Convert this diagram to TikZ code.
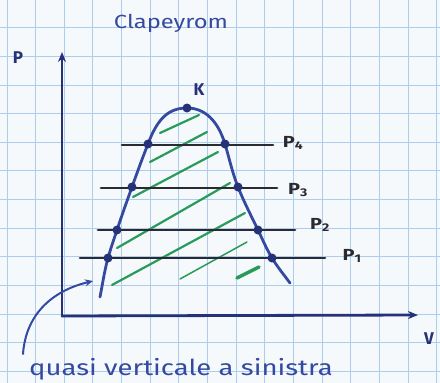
\documentclass[tikz,border=0pt]{standalone}
\usepackage{fontspec}
\setmainfont{Fira Sans}
\newfontfamily\handfont[FakeStretch=1.25]{Fira Sans}
\usetikzlibrary{arrows.meta}
\definecolor{paper}{RGB}{246,249,252}
\definecolor{gridblue}{RGB}{172,206,236}
\definecolor{inkblue}{RGB}{52,74,160}
\definecolor{navy}{RGB}{38,50,120}
\definecolor{blackink}{RGB}{42,42,48}
\definecolor{hatchgreen}{RGB}{40,155,90}
\begin{document}
\begin{tikzpicture}[x=1pt,y=-1pt,
  gridline/.style={draw=gridblue, line width=1pt},
  axisline/.style={draw=navy, line width=2.8pt, line cap=round, -{Stealth[length=10pt,width=8pt]}},
  curveline/.style={draw=inkblue, line width=2.8pt, line cap=round},
  pline/.style={draw=blackink, line width=2.8pt, line cap=round},
  hatch/.style={draw=hatchgreen, line width=2.2pt, line cap=round},
  dotmark/.style={fill=navy},
  lab/.style={text=navy, font=\fontsize{17}{17}\selectfont\bfseries, inner sep=0pt},
  plab/.style={text=blackink, font=\handfont\fontsize{16}{16}\selectfont\bfseries, inner sep=0pt},
  note/.style={text=inkblue, font=\handfont\fontsize{22}{22}\selectfont, inner sep=0pt}]
\fill[paper] (0,0) rectangle (440,383);
\useasboundingbox (0,0) rectangle (440,383);
\foreach \i in {0,...,15} \draw[gridline] ({7+28.65*\i},0) -- ({7+28.65*\i},383);
\foreach \j in {-2,...,10} \draw[gridline] (0,{85+28.65*\j}) -- (440,{85+28.65*\j});

% title
\node[note, font=\handfont\fontsize{19}{19}\selectfont] (title) at (171,23) {Clapeyrom};

% axes
\coordinate (O) at (62,316);
\coordinate (ytop) at (62,52);
\coordinate (xend) at (418,315);
\draw[axisline] (O) -- (ytop);
\draw[axisline] (O) -- (xend);
\node[lab] (Plab) at (18,58) {P};
\node[lab] (Vlab) at (429,339) {V};

% intersection points
\coordinate (a0) at (100,297);
\coordinate (l1) at (108,258);
\coordinate (l2) at (117,230);
\coordinate (l3) at (132,187);
\coordinate (l4) at (148,144);
\coordinate (K) at (187,108);
\coordinate (r4) at (225,144);
\coordinate (r3) at (238,187);
\coordinate (r2) at (258,230);
\coordinate (r1) at (272,258);
\coordinate (a9) at (290,283);

% hatching
\draw[hatch] (160,133) -- (199,115);
\draw[hatch] (150,162) -- (207,132);
\draw[hatch] (133,197) -- (218,152);
\draw[hatch] (117,248) -- (230,183);
\draw[hatch] (112,285) -- (245,213);
\draw[hatch, line width=1.5pt] (180,279) -- (247,242);
\draw[hatch, line width=3.5pt] (237,278) -- (259,267);

% isobars
\coordinate (p4a) at (122,145); \coordinate (p4b) at (273,145);
\coordinate (p3a) at (101,188); \coordinate (p3b) at (277,188);
\coordinate (p2a) at (98,230);  \coordinate (p2b) at (295,230);
\coordinate (p1a) at (80,258);  \coordinate (p1b) at (325,258);
\draw[pline] (p4a) -- (p4b);
\draw[pline] (p3a) -- (p3b);
\draw[pline] (p2a) -- (p2b);
\draw[pline] (p1a) -- (p1b);
\node[plab] (P4) at (293,143) {P\textsubscript{4}};
\node[plab] (P3) at (298,190) {P\textsubscript{3}};
\node[plab] (P2) at (320,225) {P\textsubscript{2}};
\node[plab] (P1) at (352,256) {P\textsubscript{1}};

% saturation curve
\draw[curveline] (a0)
  .. controls (102.6,284) and (104.4,271) .. (l1)
  .. controls (110.6,248.7) and (113.9,239.3) .. (l2)
  .. controls (121.7,215.7) and (126.9,201.3) .. (l3)
  .. controls (137.1,172.7) and (142.3,158.3) .. (l4)
  .. controls (157.6,118) and (169,108) .. (K)
  .. controls (205,108) and (218,121) .. (r4)
  .. controls (229.3,158.3) and (232.3,172.7) .. (r3)
  .. controls (243.7,201.3) and (251.1,215.7) .. (r2)
  .. controls (262.5,239.3) and (266.4,248.7) .. (r1)
  .. controls (277,266.3) and (283.8,274.7) .. (a9);
\foreach \p in {l1,l2,l3,l4,K,r4,r3,r2,r1} \fill[dotmark] (\p) circle (4.5);
\node[lab] (Klab) at (199,90) {K};

% note
\node[note, anchor=base] (quasi) at (181,375) {quasi verticale a sinistra};
\coordinate (qstart) at (23,354);
\coordinate (qtip) at (93,281);
\draw[curveline, line width=2pt, -{Stealth[length=8pt,width=7pt]}] (qstart) .. controls (26,312) and (55,290) .. (qtip);
\end{tikzpicture}
\end{document}
